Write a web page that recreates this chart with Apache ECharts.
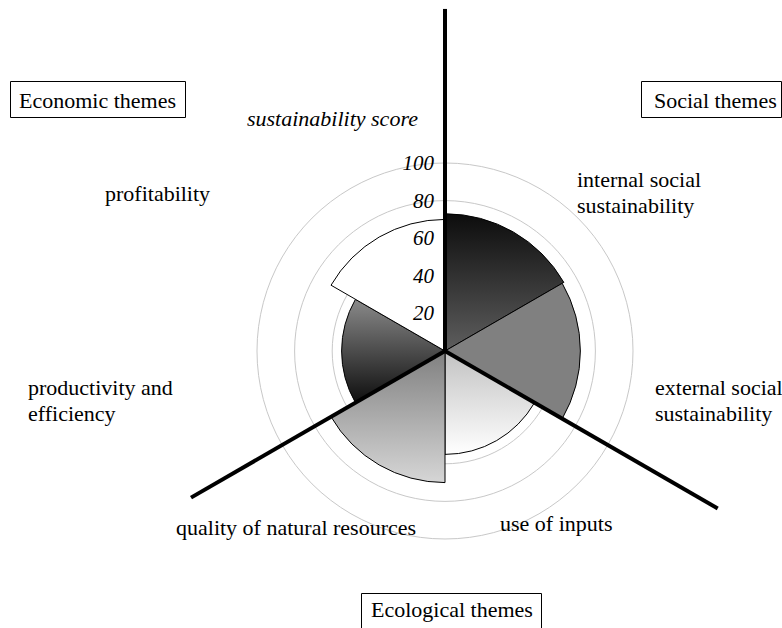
<!DOCTYPE html>
<html><head><meta charset="utf-8">
<script src="https://cdn.jsdelivr.net/npm/echarts@6/dist/echarts.min.js"></script>
<style>html,body{margin:0;padding:0;background:#fff}#c{width:782px;height:628px}</style>
</head><body><div id="c"></div>
<script>
// ---- data ----
const categories = ['internal social sustainability','external social sustainability','use of inputs','quality of natural resources','productivity and efficiency','profitability'];
const scores = [73, 72, 55, 70, 55, 70];
const radiusTicks = ['20','40','60','80','100'];
const themeAxisAngles = [0, 120, 240];      // degrees clockwise from top
const themeAxisLengths = [182, 167.5, 156]; // in score units
// ---- styles ----
const F = '"Liberation Serif","Times New Roman",serif';
function grad(a, b) { return {type:'linear', x:0, y:0, x2:0, y2:1, colorStops:[{offset:0,color:a},{offset:1,color:b}]}; }
const fills = [grad('#0c0c0c','#5e5e5e'), '#808080', grad('#c2c2c2','#ffffff'), grad('#808080','#d6d6d6'), grad('#8a8a8a','#0e0e0e'), '#ffffff'];

const chart = echarts.init(document.getElementById('c'), null, {renderer:'svg'});
const CX = 445, CY = 351, R = 188;
const OUTER = 182; // score units covered by the outer (line) polar
const R2 = R * OUTER / 100;

const series = [{
  type:'bar', coordinateSystem:'polar', polarIndex:0, barCategoryGap:'0%',
  data: scores.map((v,i)=>({value:v, itemStyle:{color:fills[i], borderColor:'#000', borderWidth:1}})),
  z:2, silent:true
}];
themeAxisAngles.forEach((a,i)=>{
  series.push({type:'line', coordinateSystem:'polar', polarIndex:1, clip:false, symbol:'none',
    lineStyle:{color:'#000', width:4}, data:[[0,a],[themeAxisLengths[i],a]], z:5, silent:true});
});

function txt(x, y, s, opt) {
  return Object.assign({type:'text', x:x, y:y, z:10, style:Object.assign({text:s, font:'22px '+F, fill:'#000', textVerticalAlign:'middle', lineHeight:26}, opt||{})});
}

chart.setOption({
  animation:false,
  polar:[{center:[CX,CY], radius:R},{center:[CX,CY], radius:R2}],
  angleAxis:[
    {polarIndex:0, type:'category', data:categories, startAngle:90, clockwise:true, boundaryGap:true,
     axisLine:{show:false}, axisTick:{show:false}, axisLabel:{show:false}, splitLine:{show:false}},
    {polarIndex:1, type:'value', min:0, max:360, startAngle:90, clockwise:true,
     axisLine:{show:false}, axisTick:{show:false}, axisLabel:{show:false}, splitLine:{show:false}}
  ],
  radiusAxis:[
    {polarIndex:0, type:'value', min:0, max:100, interval:20, z:0,
     axisLine:{show:false}, axisTick:{show:false}, axisLabel:{show:false},
     splitLine:{show:true, lineStyle:{color:'#c8c8c8', width:1}}},
    {polarIndex:1, type:'value', min:0, max:OUTER, interval:20, z:8,
     axisLine:{show:false}, axisTick:{show:false}, splitLine:{show:false},
     axisLabel:{showMinLabel:false, margin:11, fontFamily:F, fontStyle:'italic', fontSize:21, color:'#000',
       formatter:(v)=>radiusTicks[v/20-1] || ''}}
  ],
  series: series,
  graphic:[
    {type:'rect', shape:{x:10.5, y:81.5, width:175, height:36}, style:{fill:'#fff', stroke:'#000', lineWidth:1}, z:9},
    txt(19, 100, 'Economic themes'),
    {type:'rect', shape:{x:641.5, y:81.5, width:140, height:36}, style:{fill:'#fff', stroke:'#000', lineWidth:1}, z:9},
    txt(654, 100, 'Social themes'),
    {type:'rect', shape:{x:361.5, y:593.5, width:180, height:40}, style:{fill:'#fff', stroke:'#000', lineWidth:1}, z:9},
    txt(371, 609, 'Ecological themes'),
    txt(247, 118, 'sustainability score', {font:'italic 22px '+F}),
    txt(105, 193, 'profitability'),
    txt(577, 192, 'internal social\nsustainability'),
    txt(655, 400, 'external social\nsustainability'),
    txt(28, 400, 'productivity and\nefficiency'),
    txt(176, 527, 'quality of natural resources'),
    txt(500, 523, 'use of inputs')
  ]
});
</script></body></html>
